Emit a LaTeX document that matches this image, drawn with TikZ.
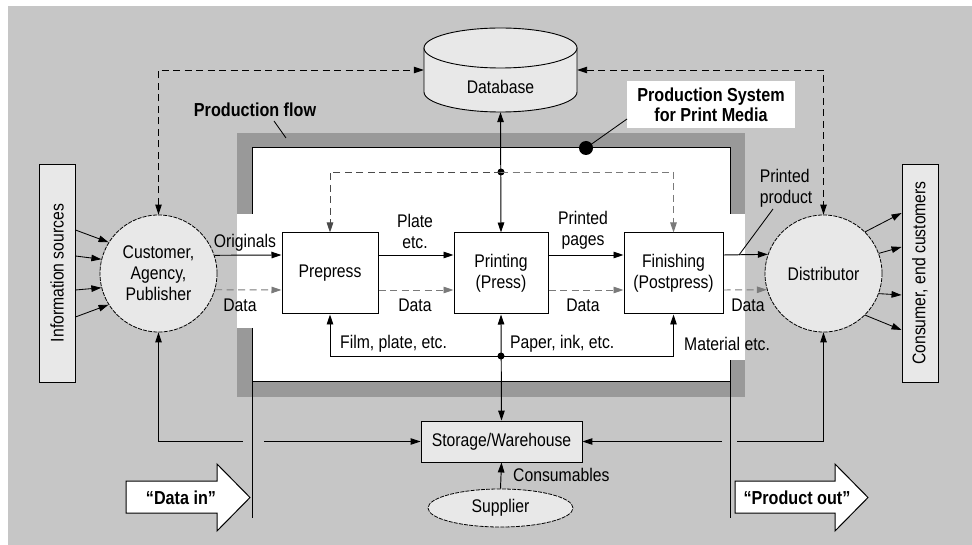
\documentclass[tikz,border=0pt]{standalone}
\usepackage{fontspec}
\setmainfont{Liberation Sans}[FakeStretch=0.86]
\usepackage{tikz}
\usetikzlibrary{positioning,arrows.meta,calc,shapes.geometric}
\definecolor{bgcol}{HTML}{C6C6C6}
\definecolor{bandcol}{HTML}{999999}
\definecolor{boxcol}{HTML}{E8E8E8}
\definecolor{datacol}{HTML}{7A7A7A}
\definecolor{loopcol}{HTML}{4A4A4A}
\newcommand{\txtsize}{\fontsize{18.3}{21}\selectfont}
\newcommand{\hdsize}{\fontsize{18.8}{20}\selectfont\bfseries}
\tikzset{
  arr/.style={-{Triangle[length=10pt,width=6.5pt]}, line width=0.95pt},
  darr/.style={{Triangle[length=10pt,width=6.5pt]}-{Triangle[length=10pt,width=6.5pt]}, line width=0.95pt},
  dsh/.style={dash pattern=on 7pt off 4.5pt},
  lead/.style={line width=0.85pt},
  lbl/.style={font=\txtsize, inner sep=1pt, align=center},
  hd/.style={font=\hdsize, inner sep=1pt, align=center},
  stage/.style={draw, line width=1pt, fill=white, minimum height=81pt, inner sep=0pt, align=center, font=\txtsize},
  party/.style={circle, draw, line width=0.8pt, dash pattern=on 4pt off 1.2pt, fill=boxcol, minimum size=117pt, inner sep=0pt, align=center, font=\txtsize},
  side/.style={draw, line width=0.9pt, fill=boxcol, rotate=90, minimum width=218pt, minimum height=36pt, inner sep=0pt, font=\txtsize},
  bigarrow/.style={draw, line width=1pt, fill=white}
}

\begin{document}
\begin{tikzpicture}[x=1pt, y=-1pt]
  \useasboundingbox (0,0) rectangle (972,545);
  \fill[bgcol] (8,6) rectangle (972,545);

  % production system frame
  \fill[bandcol] (237,133) rectangle (745,397);
  \fill[white] (252,148) rectangle (730,381);
  \fill[white] (237,214) rectangle (252,328);
  \fill[white] (730,214) rectangle (745,360);
  \draw[line width=1pt] (252,214) -- (252,148) -- (730,148) -- (730,214);
  \draw[line width=1pt] (252,381) -- (730,381);

  % database
  \node[inner sep=0pt, minimum width=153pt, minimum height=84pt] (db) at (500.5,70) {};
  \draw[line width=0.9pt, fill=boxcol] (424,48) -- (424,92)
    arc[start angle=180, end angle=360, x radius=76.5pt, y radius=20pt] -- (577,48) -- cycle;
  \draw[line width=0.9pt, fill=boxcol] (500.5,48) ellipse[x radius=76.5pt, y radius=20pt];
  \node[lbl] (dbl) at (500.5,87) {Database};

  % parties and stages
  \node[side] (info) at (57,273) {Information sources};
  \node[side] (cons) at (920,273) {Consumer, end customers};
  \node[party] (cust) at (158.5,273.5) {Customer,\\Agency,\\Publisher};
  \node[party] (dist) at (823.5,273.5) {Distributor};
  \node[stage, minimum width=96pt] (pre) at (330,273.5) {Prepress};
  \node[stage, minimum width=94pt] (print) at (501,273.5) {Printing\\(Press)};
  \node[stage, minimum width=99pt] (fin) at (673.5,273.5) {Finishing\\(Postpress)};
  \node[draw, line width=0.9pt, fill=boxcol, minimum width=161pt, minimum height=41pt, font=\txtsize] (store) at (501.5,441.5) {Storage/Warehouse};
  \node[ellipse, draw, line width=0.8pt, dash pattern=on 4pt off 1.2pt, fill=boxcol, minimum width=145pt, minimum height=38pt, inner sep=0pt, font=\txtsize] (supp) at (500.5,508) {Supplier};

  \coordinate (hi) at (0,255);
  \coordinate (lo) at (0,290);

  % incoming and outgoing
  \foreach \yy/\aa in {230/148,256/166,290/194,317/212}
    \draw[arr, line width=0.85pt] (info.south |- 0,\yy) -- (cust.\aa);
  \foreach \aa/\yy in {45/213,20/247,-20/295,-45/330}
    \draw[arr, line width=0.85pt] (dist.\aa) -- (cons.north |- 0,\yy);

  % material flow
  \draw[arr] (cust.18.4) -- (pre.west |- hi);
  \draw[arr] (pre.east |- hi) -- (print.west |- hi);
  \draw[arr] (print.east |- hi) -- (fin.west |- hi);
  \draw[arr] (fin.east |- hi) -- (dist.161.6);

  % data flow
  \draw[arr, dsh, datacol] (cust.-16.4) -- (pre.west |- lo);
  \draw[arr, dsh, datacol] (pre.east |- lo) -- (print.west |- lo);
  \draw[arr, dsh, datacol] (print.east |- lo) -- (fin.west |- lo);
  \draw[arr, dsh, datacol] (fin.east |- lo) -- (dist.196.4);

  % database links
  \draw[darr, dsh] (cust.north) |- (db.west);
  \draw[darr, dsh] (db.east) -| (dist.north);
  \draw[darr] (db.south) -- (print.north);
  \coordinate (ctl) at (print.north |- 0,172);
  \fill (ctl) circle (3.5pt);
  \draw[arr, dsh, loopcol] (ctl) -| (pre.north);
  \draw[arr, dsh, datacol] (ctl) -| (fin.north);

  % supplies
  \draw[darr] (print.south) -- (store.north);
  \coordinate (sup) at (print.south |- 0,356);
  \fill (sup) circle (3.5pt);
  \draw[arr] (sup) -| (pre.south);
  \draw[arr] (sup) -| (fin.south);
  \draw[arr] (supp.north) -- (store.south);
  \draw[darr] (store.west) -| (cust.south);
  \draw[darr] (store.east) -| (dist.south);

  % labels
  \node[lbl] (lorig) at (245,243) {Originals};
  \node[lbl] (ldata1) at (240,305) {Data};
  \node[lbl] (lplate) at (415,231) {Plate\\etc.};
  \node[lbl] (ldata2) at (415,305) {Data};
  \node[lbl] (lpages) at (583,230) {Printed\\pages};
  \node[lbl] (ldata3) at (583,305) {Data};
  \node[lbl] (ldata4) at (748,305) {Data};
  \node[lbl, align=left] (lprod) at (786,188) {Printed\\product};
  \node[lbl, anchor=west] (lfilm) at (339,344) {Film, plate, etc.};
  \node[lbl, anchor=west] (lpaper) at (509,344) {Paper, ink, etc.};
  \node[lbl, anchor=west] (lmat) at (683,344) {Material etc.};
  \node[lbl, anchor=west] (lcons) at (512,475) {Consumables};
  \draw[lead] (739,255) -- (773,209);

  \node[hd] (lflow) at (255,110) {Production flow};
  \draw[lead] (274,121) -- (286,138);
  \node[hd, fill=white, minimum width=168pt, minimum height=47pt] (lsys) at (711,104.5) {Production System\\for Print Media};
  \coordinate (sysdot) at (586,148);
  \draw[lead] (627,119) -- (sysdot);
  \fill (sysdot) circle (7pt);

  % data in / product out boundaries
  \fill[bgcol] (243,436) rectangle (264,447);
  \fill[bgcol] (722,436) rectangle (737,447);
  \draw[line width=1pt] (252,328) -- (252,518);
  \draw[line width=1pt] (730,360) -- (730,518);
  \draw[bigarrow] (126,481) -- (217,481) -- (217,464) -- (250,497.5) -- (217,531) -- (217,513) -- (126,513) -- cycle;
  \node[hd] (din) at (181,498) {“Data in”};
  \draw[bigarrow] (735,481) -- (835,481) -- (835,464) -- (868,497.5) -- (835,531) -- (835,513) -- (735,513) -- cycle;
  \node[hd] (pout) at (797,498) {“Product out”};
\end{tikzpicture}
\end{document}
